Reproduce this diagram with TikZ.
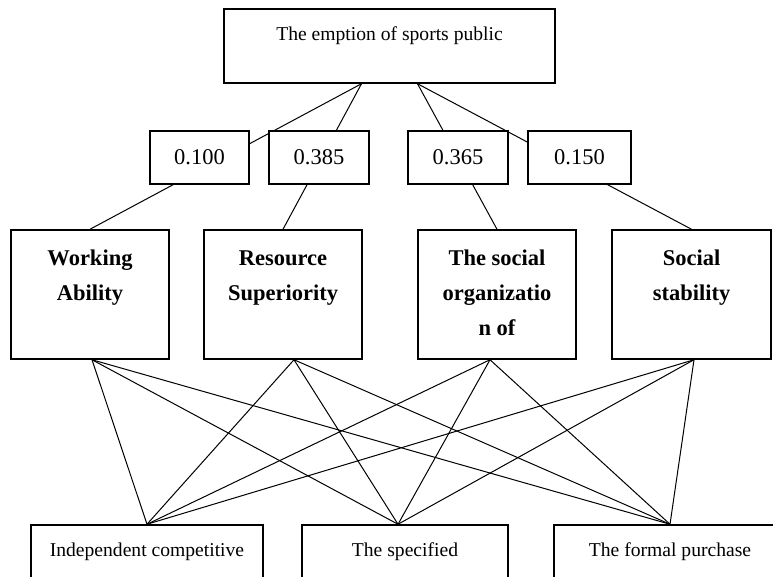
\documentclass[tikz,border=0pt]{standalone}
\usepackage{fontspec}
\setmainfont{Liberation Serif}
\pgfdeclarelayer{bg}
\pgfsetlayers{bg,main}
\newcommand{\firstline}{\rule{0pt}{16pt}}
\begin{document}
\begin{tikzpicture}[x=1pt,y=-1pt,
  box/.style={draw, line width=1.5pt, fill=white, inner sep=0pt},
  conn/.style={line width=1pt},
  reg/.style={font=\fontsize{19.6}{24}\selectfont},
  big/.style={font=\fontsize{22.5}{27}\selectfont},
  bigb/.style={font=\fontsize{22.5}{35}\selectfont\bfseries, align=center, anchor=north, inner sep=0pt}]
\useasboundingbox (0,0) rectangle (773,577);
\clip (0,0) rectangle (773,577);
% top
\node[box, minimum width=331pt, minimum height=74pt] (top) at (389.5,46) {};
\node[reg] (toptext) at (389.5,36) {The emption of sports public};
% weights
\node[box, big, minimum width=99pt, minimum height=53pt] (w1) at (199.5,157.5) {0.100};
\node[box, big, minimum width=100pt, minimum height=53pt] (w2) at (319,157.5) {0.385};
\node[box, big, minimum width=100pt, minimum height=53pt] (w3) at (458,157.5) {0.365};
\node[box, big, minimum width=103pt, minimum height=53pt] (w4) at (579.5,157.5) {0.150};
% criteria
\node[box, minimum width=158pt, minimum height=129pt] (wa) at (90,294.5) {};
\node[box, minimum width=158pt, minimum height=129pt] (rs) at (283,294.5) {};
\node[box, minimum width=158pt, minimum height=129pt] (so) at (497,294.5) {};
\node[box, minimum width=159pt, minimum height=129pt] (ss) at (691.5,294.5) {};
\node[bigb] (wat) at (90,249) {\firstline Working\\Ability};
\node[bigb] (rst) at (283,249) {\firstline Resource\\Superiority};
\node[bigb] (sot) at (497,249) {\firstline The social\\organizatio\\n of};
\node[bigb] (sst) at (691.5,249) {\firstline Social\\stability};
% alternatives
\node[box, reg, minimum width=232pt, minimum height=54pt] (ic) at (147,552) {Independent competitive};
\node[box, reg, minimum width=206pt, minimum height=54pt] (sp) at (405,552) {The specified};
\node[box, reg, minimum width=232pt, minimum height=54pt] (fp) at (670,552) {The formal purchase};
% connectors
\begin{pgfonlayer}{bg}
\draw[conn] ([xshift=-28pt]top.south) -- (wa.north);
\draw[conn] ([xshift=-28pt]top.south) -- (rs.north);
\draw[conn] ([xshift=28pt]top.south) -- (so.north);
\draw[conn] ([xshift=28pt]top.south) -- (ss.north);
\foreach \src/\s in {wa/2, rs/11, so/-7, ss/2.5}
  \foreach \dst/\d in {ic/0, sp/-7, fp/0}
    \draw[conn] ([xshift=\s pt]\src.south) -- ([xshift=\d pt]\dst.north);
\end{pgfonlayer}
\end{tikzpicture}
\end{document}
